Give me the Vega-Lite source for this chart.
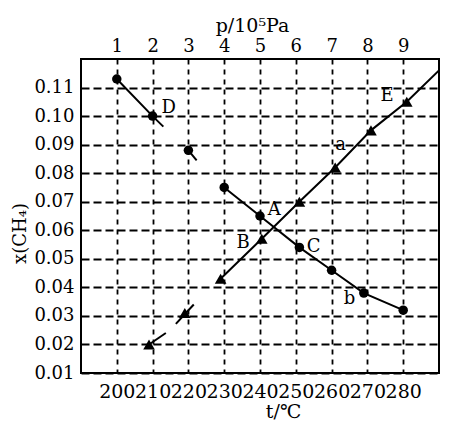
{
  "$schema": "https://vega.github.io/schema/vega-lite/v6.json",
  "width": 358,
  "height": 314,
  "autosize": {"type": "none"},
  "padding": {"left": 81, "top": 59, "right": 20, "bottom": 55},
  "background": "white",
  "config": {
    "font": "DejaVu Serif",
    "view": {"stroke": "black", "strokeWidth": 2},
    "axis": {"labelColor": "black", "titleColor": "black", "titleFontWeight": "normal", "labelFont": "DejaVu Serif", "titleFont": "DejaVu Serif"}
  },
  "datasets": {
    "pvals": [{"p": 1}, {"p": 2}, {"p": 3}, {"p": 4}, {"p": 5}, {"p": 6}, {"p": 7}, {"p": 8}, {"p": 9}],
    "lines": [
      {"t": 200, "x": 0.113, "seg": "c1"},
      {"t": 210, "x": 0.100, "seg": "c1"},
      {"t": 213, "x": 0.0963, "seg": "c1"},
      {"t": 220, "x": 0.088, "seg": "c2"},
      {"t": 222.3, "x": 0.0845, "seg": "c2"},
      {"t": 230, "x": 0.075, "seg": "c3"},
      {"t": 240, "x": 0.065, "seg": "c3"},
      {"t": 251, "x": 0.054, "seg": "c3"},
      {"t": 260, "x": 0.046, "seg": "c3"},
      {"t": 269, "x": 0.038, "seg": "c3"},
      {"t": 280, "x": 0.032, "seg": "c3"},
      {"t": 209, "x": 0.020, "seg": "t1"},
      {"t": 213.7, "x": 0.024, "seg": "t1"},
      {"t": 216.5, "x": 0.0272, "seg": "t2"},
      {"t": 221.5, "x": 0.034, "seg": "t2"},
      {"t": 229, "x": 0.043, "seg": "t3"},
      {"t": 240.5, "x": 0.057, "seg": "t3"},
      {"t": 251, "x": 0.070, "seg": "t3"},
      {"t": 261, "x": 0.082, "seg": "t3"},
      {"t": 271, "x": 0.095, "seg": "t3"},
      {"t": 281, "x": 0.105, "seg": "t3"},
      {"t": 290, "x": 0.116, "seg": "t3"}
    ],
    "circles": [
      {"t": 200, "x": 0.113}, {"t": 210, "x": 0.100}, {"t": 220, "x": 0.088},
      {"t": 230, "x": 0.075}, {"t": 240, "x": 0.065}, {"t": 251, "x": 0.054},
      {"t": 260, "x": 0.046}, {"t": 269, "x": 0.038}, {"t": 280, "x": 0.032}
    ],
    "triangles": [
      {"t": 209, "x": 0.020}, {"t": 219, "x": 0.031}, {"t": 229, "x": 0.043},
      {"t": 240.5, "x": 0.057}, {"t": 251, "x": 0.070}, {"t": 261, "x": 0.082},
      {"t": 271, "x": 0.095}, {"t": 281, "x": 0.105}
    ],
    "labels": [
      {"t": 214.5, "x": 0.103, "label": "D"},
      {"t": 244, "x": 0.067, "label": "A"},
      {"t": 235.3, "x": 0.0555, "label": "B"},
      {"t": 255, "x": 0.054, "label": "C"},
      {"t": 275.5, "x": 0.107, "label": "E"},
      {"t": 262.5, "x": 0.090, "label": "a"},
      {"t": 265, "x": 0.036, "label": "b"}
    ]
  },
  "layer": [
    {
      "data": {"name": "pvals"},
      "mark": {"type": "point", "opacity": 0},
      "encoding": {
        "x": {
          "field": "p", "type": "quantitative",
          "scale": {"domain": [0, 10], "nice": false, "zero": false},
          "axis": {
            "orient": "top", "values": [1, 2, 3, 4, 5, 6, 7, 8, 9], "tickCount": 12, "format": "d",
            "grid": false, "ticks": false, "domain": false,
            "labelFontSize": 18, "labelPadding": 4, "labelOverlap": false,
            "title": "p/10⁵Pa", "titleFontSize": 19,
            "titleX": 171, "titleY": -34, "titleBaseline": "middle", "titleAlign": "center"
          }
        }
      }
    },
    {
      "layer": [
        {
          "data": {"name": "lines"},
          "mark": {"type": "line", "color": "black", "strokeWidth": 2, "clip": true},
          "encoding": {
            "x": {
              "field": "t", "type": "quantitative",
              "scale": {"domain": [190, 290], "nice": false, "zero": false},
              "axis": {
                "orient": "bottom", "values": [200, 210, 220, 230, 240, 250, 260, 270, 280], "tickCount": 12, "format": "d",
                "grid": true, "gridColor": "black", "gridDash": [5, 5], "gridWidth": 1.8, "gridOpacity": 1,
                "ticks": false, "domain": false,
                "labelFontSize": 19, "labelPadding": 9, "labelOverlap": false, "labelBound": false, "labelFlush": false,
                "title": "t/℃", "titleFontSize": 19,
                "titleX": 202, "titleY": 38, "titleBaseline": "middle", "titleAlign": "center"
              }
            },
            "y": {
              "field": "x", "type": "quantitative",
              "scale": {"domain": [0.01, 0.12], "nice": false, "zero": false},
              "axis": {
                "values": [0.01, 0.02, 0.03, 0.04, 0.05, 0.06, 0.07, 0.08, 0.09, 0.10, 0.11], "tickCount": 15, "format": ".2f",
                "grid": true, "gridColor": "black", "gridDash": [8, 4], "gridWidth": 1.8, "gridOpacity": 1,
                "ticks": false, "domain": false,
                "labelFontSize": 18, "labelPadding": 7, "labelOverlap": false,
                "title": "x(CH₄)", "titleFontSize": 18,
                "titleX": -61, "titleY": 174, "titleBaseline": "middle", "titleAlign": "center", "titleAngle": 270
              }
            },
            "detail": {"field": "seg"}
          }
        },
        {
          "data": {"name": "circles"},
          "mark": {"type": "point", "shape": "circle", "filled": true, "color": "black", "opacity": 1, "size": 90},
          "encoding": {
            "x": {"field": "t", "type": "quantitative"},
            "y": {"field": "x", "type": "quantitative"}
          }
        },
        {
          "data": {"name": "triangles"},
          "mark": {"type": "point", "shape": "triangle-up", "filled": true, "color": "black", "opacity": 1, "size": 135},
          "encoding": {
            "x": {"field": "t", "type": "quantitative"},
            "y": {"field": "x", "type": "quantitative"}
          }
        },
        {
          "data": {"name": "labels"},
          "mark": {"type": "text", "font": "DejaVu Serif", "fontSize": 18, "color": "black", "align": "center", "baseline": "middle"},
          "encoding": {
            "x": {"field": "t", "type": "quantitative"},
            "y": {"field": "x", "type": "quantitative"},
            "text": {"field": "label"}
          }
        }
      ]
    }
  ],
  "resolve": {"scale": {"x": "independent"}, "axis": {"x": "independent"}}
}
